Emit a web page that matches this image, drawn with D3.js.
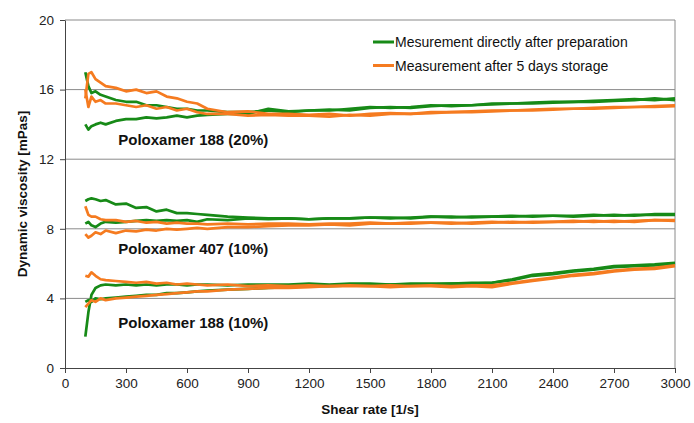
<!DOCTYPE html>
<html><head><meta charset="utf-8">
<script src="https://cdn.jsdelivr.net/npm/d3@7"></script>
<style>body{margin:0;background:#fff}svg{display:block;font-family:"Liberation Sans",Arial,sans-serif}</style>
</head><body><svg id="c" width="694" height="423"></svg>
<script>
const shearRates = [100,115,130,150,175,200,250,300,350,400,450,500,550,600,650,700,800,900,1000,1100,1200,1300,1400,1500,1600,1700,1800,1900,2000,2100,2200,2300,2400,2500,2600,2700,2800,2900,3000];
const xTicks = [0,300,600,900,1200,1500,1800,2100,2400,2700,3000];
const yTicks = [0,4,8,12,16,20];
const seriesNames = ["Mesurement directly after preparation","Measurement after 5 days storage"];
const groupLabels = ["Poloxamer 188 (20%)","Poloxamer 407 (10%)","Poloxamer 188 (10%)"];
const groupLabelValues = [12.8, 6.55, 2.3];

// Poloxamer 188 (20%)
const p188_20_freshA = [17.0,16.2,15.8,15.9,15.7,15.6,15.4,15.3,15.3,15.1,15.1,15.0,14.9,14.9,14.8,14.8,14.7,14.7,14.8,14.7,14.8,14.8,14.9,15.0,14.95,15.0,15.1,15.05,15.1,15.2,15.2,15.25,15.3,15.3,15.35,15.4,15.45,15.4,15.5];
const p188_20_freshB = [14.0,13.7,13.9,14.0,14.1,14.0,14.2,14.3,14.3,14.4,14.35,14.4,14.5,14.4,14.5,14.55,14.6,14.6,14.9,14.75,14.8,14.85,14.8,14.95,15.0,14.95,15.05,15.1,15.1,15.15,15.2,15.2,15.25,15.3,15.3,15.35,15.4,15.5,15.4];
const p188_20_storedA = [15.5,16.9,17.0,16.6,16.4,16.2,16.1,15.9,16.0,15.8,15.9,15.6,15.5,15.3,15.2,14.9,14.7,14.75,14.6,14.6,14.55,14.6,14.5,14.6,14.65,14.6,14.7,14.7,14.75,14.8,14.8,14.85,14.9,14.9,14.95,15.0,15.0,15.05,15.1];
const p188_20_storedB = [16.0,15.0,15.6,15.3,15.4,15.2,15.2,15.1,15.0,15.1,14.9,15.0,14.8,14.9,14.7,14.6,14.6,14.5,14.55,14.5,14.5,14.45,14.55,14.5,14.6,14.6,14.65,14.7,14.7,14.75,14.8,14.8,14.85,14.9,14.9,14.95,15.0,15.0,15.05];
// Poloxamer 407 (10%)
const p407_10_freshA = [9.6,9.7,9.75,9.7,9.6,9.65,9.4,9.45,9.2,9.25,9.0,9.1,8.9,8.9,8.85,8.8,8.7,8.65,8.6,8.6,8.55,8.6,8.6,8.65,8.6,8.65,8.7,8.65,8.7,8.7,8.75,8.7,8.75,8.75,8.8,8.75,8.8,8.8,8.8];
const p407_10_freshB = [8.3,8.4,8.2,8.1,8.3,8.4,8.35,8.4,8.45,8.5,8.45,8.5,8.45,8.5,8.4,8.55,8.5,8.6,8.55,8.6,8.55,8.6,8.6,8.65,8.65,8.6,8.7,8.7,8.65,8.7,8.7,8.75,8.75,8.7,8.75,8.8,8.75,8.85,8.85];
const p407_10_storedA = [9.3,8.8,8.7,8.7,8.55,8.5,8.5,8.4,8.45,8.35,8.4,8.3,8.35,8.3,8.3,8.25,8.3,8.25,8.3,8.3,8.25,8.3,8.3,8.35,8.3,8.35,8.35,8.3,8.35,8.4,8.35,8.4,8.4,8.4,8.45,8.4,8.45,8.5,8.5];
const p407_10_storedB = [7.7,7.5,7.6,7.8,7.7,7.9,7.75,7.9,7.85,7.95,7.9,8.0,7.95,8.0,8.05,8.0,8.1,8.1,8.15,8.2,8.2,8.25,8.2,8.3,8.3,8.3,8.35,8.35,8.3,8.35,8.4,8.35,8.4,8.45,8.4,8.45,8.4,8.5,8.45];
// Poloxamer 188 (10%)
const p188_10_freshA = [1.8,3.2,4.2,4.6,4.75,4.8,4.75,4.8,4.75,4.8,4.75,4.8,4.8,4.75,4.8,4.8,4.75,4.8,4.8,4.8,4.85,4.8,4.85,4.85,4.8,4.85,4.85,4.85,4.9,4.9,5.1,5.35,5.45,5.6,5.7,5.85,5.9,5.95,6.05];
const p188_10_freshB = [3.8,3.9,3.8,4.0,3.95,4.0,4.05,4.1,4.15,4.2,4.2,4.3,4.3,4.35,4.4,4.45,4.5,4.55,4.6,4.65,4.7,4.7,4.75,4.75,4.8,4.8,4.8,4.85,4.85,4.9,5.05,5.3,5.4,5.55,5.65,5.8,5.85,5.9,6.0];
const p188_10_storedA = [5.3,5.25,5.5,5.3,5.1,5.05,5.0,4.95,4.9,4.95,4.85,4.9,4.8,4.85,4.8,4.75,4.8,4.7,4.75,4.7,4.75,4.7,4.75,4.7,4.75,4.7,4.75,4.7,4.75,4.75,4.9,5.05,5.2,5.35,5.45,5.6,5.7,5.75,5.9];
const p188_10_storedB = [3.5,3.7,3.9,3.8,4.0,3.9,4.0,4.05,4.1,4.15,4.2,4.25,4.3,4.35,4.4,4.4,4.5,4.55,4.6,4.6,4.65,4.7,4.7,4.7,4.65,4.7,4.7,4.65,4.7,4.65,4.85,5.0,5.15,5.3,5.4,5.55,5.65,5.7,5.85];

const freshSeries = [p188_20_freshA,p188_20_freshB,p407_10_freshA,p407_10_freshB,p188_10_freshA,p188_10_freshB];
const storedSeries = [p188_20_storedA,p188_20_storedB,p407_10_storedA,p407_10_storedB,p188_10_storedA,p188_10_storedB];

const GREEN = "#178a17", ORANGE = "#f57b20";
const svg = d3.select("#c");
const m = {l:65, r:19, t:20, b:55};
const W = 694, H = 423;
const x = d3.scaleLinear().domain([0,3000]).range([m.l, W-m.r]);
const y = d3.scaleLinear().domain([0,20]).range([H-m.b, m.t]);

// gridlines
svg.append("g").selectAll("line").data(yTicks.filter(d=>d>0)).join("line")
  .attr("x1", m.l).attr("x2", W-m.r).attr("y1", d=>y(d)).attr("y2", d=>y(d))
  .attr("stroke","#8a8a8a").attr("stroke-width",1);
// right border
svg.append("line").attr("x1",W-m.r).attr("x2",W-m.r).attr("y1",y(20)).attr("y2",y(0))
  .attr("stroke","#8a8a8a").attr("stroke-width",1);

// axes
const yAxis = svg.append("g").attr("transform",`translate(${m.l},0)`)
  .call(d3.axisLeft(y).tickValues(yTicks).tickSize(5).tickSizeOuter(0).tickPadding(6));
const xAxis = svg.append("g").attr("transform",`translate(0,${y(0)})`)
  .call(d3.axisBottom(x).tickValues(xTicks).tickFormat(d3.format("d")).tickSize(5).tickSizeOuter(0).tickPadding(5));
[yAxis,xAxis].forEach(a=>{
  a.selectAll("path,line").attr("stroke","#444");
  a.selectAll("text").attr("fill","#222").style("font-size","13.5px").style("font-family","Liberation Sans, Arial");
});

// lines
const line = d3.line().x((d,i)=>x(shearRates[i])).y(d=>y(d));
svg.append("g").selectAll("path").data(freshSeries).join("path")
  .attr("d", line).attr("fill","none").attr("stroke",GREEN).attr("stroke-width",2.7).attr("stroke-linejoin","round");
svg.append("g").selectAll("path").data(storedSeries).join("path")
  .attr("d", line).attr("fill","none").attr("stroke",ORANGE).attr("stroke-width",2.7).attr("stroke-linejoin","round");

// group labels
svg.append("g").selectAll("text").data(groupLabels).join("text")
  .attr("x", x(262)).attr("y",(d,i)=>y(groupLabelValues[i]))
  .attr("font-weight","bold").attr("font-size","15px").attr("fill","#111").text(d=>d);

// legend
const lg = svg.append("g");
[GREEN,ORANGE].forEach((c,i)=>{
  const yy = 42 + i*23.5;
  lg.append("line").attr("x1",373).attr("x2",394).attr("y1",yy).attr("y2",yy).attr("stroke",c).attr("stroke-width",3);
  lg.append("text").attr("x",395).attr("y",yy+5).attr("font-size","14px").attr("fill","#111").text(seriesNames[i]);
});

// axis titles
svg.append("text").attr("x",(m.l+W-m.r)/2).attr("y",414).attr("text-anchor","middle")
  .attr("font-weight","bold").attr("font-size","13.5px").attr("fill","#111").text("Shear rate [1/s]");
svg.append("text").attr("transform",`translate(27,${(y(0)+y(20))/2}) rotate(-90)`).attr("text-anchor","middle")
  .attr("font-weight","bold").attr("font-size","13.5px").attr("fill","#111").text("Dynamic viscosity [mPas]");
</script></body></html>
